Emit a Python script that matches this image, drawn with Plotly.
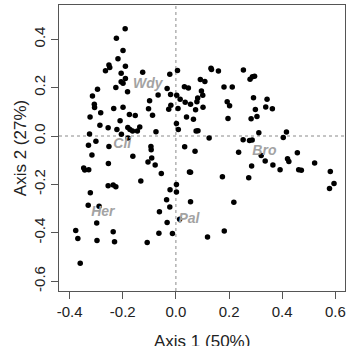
import plotly.graph_objects as go

# Site scores (Axis 1, Axis 2)
axis1 = [-0.191, -0.224, -0.199, -0.218, -0.252, -0.249, -0.265, -0.190, -0.206, -0.190,
         -0.206, -0.199, -0.226, -0.125, -0.182, -0.295, -0.314, -0.307, -0.306, -0.234,
         -0.199, -0.283, -0.323, -0.210, -0.175, -0.153, -0.286, -0.255, -0.222, -0.181,
         -0.173, -0.163, -0.136, -0.145, -0.205, -0.180, -0.325, -0.301, -0.329, -0.252,
         -0.094, -0.093, -0.099, -0.067, -0.103, -0.088, -0.075, -0.023, 0.006, -0.033,
         -0.020, 0.003, 0.016, 0.032, 0.047, -0.019, -0.027, 0.008, 0.035, 0.055,
         0.082, 0.079, 0.074, 0.092, 0.109, 0.096, 0.101, 0.102, 0.040, 0.066,
         0.002, 0.009, 0.076, 0.083, 0.125, 0.033, 0.072, 0.132, 0.134, 0.160,
         0.254, 0.279, 0.288, 0.296, 0.181, 0.212, 0.193, 0.202, 0.196, 0.283,
         0.253, 0.277, 0.287, 0.236, 0.292, 0.343, 0.299, 0.338, 0.363, 0.305,
         0.312, 0.416, 0.404, 0.457, 0.321, 0.336, 0.365, 0.392, 0.420, 0.425,
         0.462, 0.472, 0.285, 0.274, 0.175, 0.522, 0.581, 0.595, 0.578, 0.218,
         0.182, 0.119, -0.316, -0.162, -0.091, -0.105, -0.078, -0.254, -0.347, -0.343,
         -0.328, -0.055, 0.051, 0.055, -0.132, -0.255, -0.236, -0.226, 0.002, -0.022,
         0.002, -0.322, -0.330, -0.289, -0.035, -0.023, 0.055, -0.062, -0.298, -0.033,
         0.014, -0.377, -0.236, -0.369, -0.297, -0.231, -0.064, -0.013, -0.108, -0.360]
axis2 = [0.443, 0.404, 0.353, 0.319, 0.293, 0.283, 0.270, 0.288, 0.259, 0.238,
         0.224, 0.218, 0.200, 0.263, 0.183, 0.193, 0.165, 0.131, 0.118, 0.114,
         0.119, 0.096, 0.079, 0.063, 0.089, 0.085, 0.044, 0.034, 0.027, 0.035,
         0.027, 0.021, 0.037, 0.021, 0.007, -0.008, 0.008, -0.022, -0.038, -0.043,
         -0.043, -0.057, 0.146, 0.169, 0.113, 0.086, 0.018, 0.255, 0.271, 0.196,
         0.171, 0.168, 0.152, 0.203, 0.198, 0.127, 0.111, 0.114, 0.139, 0.131,
         0.157, 0.141, 0.108, 0.233, 0.225, 0.186, 0.168, 0.119, 0.078, 0.069,
         0.052, 0.027, 0.021, 0.022, -0.008, -0.044, -0.063, 0.280, 0.275, 0.269,
         0.273, 0.234, 0.245, 0.247, 0.202, 0.202, 0.142, 0.125, 0.072, 0.071,
         -0.016, -0.019, -0.017, -0.067, 0.158, 0.152, 0.110, 0.120, 0.113, 0.081,
         0.013, 0.017, -0.006, -0.069, -0.081, -0.103, -0.120, -0.139, -0.094, -0.105,
         -0.139, -0.142, -0.124, -0.173, -0.168, -0.112, -0.147, -0.196, -0.217, -0.274,
         -0.393, -0.417, -0.079, -0.084, -0.091, -0.107, -0.120, -0.114, -0.132, -0.140,
         -0.139, -0.155, -0.149, -0.150, -0.186, -0.206, -0.203, -0.210, -0.200, -0.222,
         -0.231, -0.235, -0.286, -0.290, -0.263, -0.293, -0.272, -0.313, -0.360, -0.357,
         -0.344, -0.391, -0.396, -0.424, -0.432, -0.437, -0.402, -0.403, -0.440, -0.526]

# Species labels and their positions
species = ["Wdy", "Cli", "Her", "Pal", "Bro"]
sp_axis1 = [-0.106, -0.202, -0.275, 0.049, 0.333]
sp_axis2 = [0.211, -0.037, -0.317, -0.347, -0.062]

xticks = [-0.4, -0.2, 0.0, 0.2, 0.4, 0.6]
yticks = [-0.6, -0.4, -0.2, 0.0, 0.2, 0.4]
x_title = "Axis 1 (50%)"
y_title = "Axis 2 (27%)"

FONT = "Liberation Sans, Arial, Helvetica, sans-serif"

fig = go.Figure()
fig.add_trace(go.Scatter(
    x=axis1, y=axis2, mode="markers",
    marker=dict(color="black", size=5.5, line=dict(width=0)),
    showlegend=False, hoverinfo="skip"))
fig.add_trace(go.Scatter(
    x=sp_axis1, y=sp_axis2, mode="text",
    text=["<b><i>%s</i></b>" % s for s in species],
    textfont=dict(family=FONT, size=14, color="#a3a3a3"),
    textposition="middle center",
    showlegend=False, hoverinfo="skip"))

# dotted zero lines
fig.add_shape(type="line", xref="x", yref="paper", x0=0, x1=0, y0=0, y1=1,
              line=dict(color="#8a8a8a", width=1, dash="dot"), layer="below")
fig.add_shape(type="line", xref="paper", yref="y", x0=0, x1=1, y0=0, y1=0,
              line=dict(color="#8a8a8a", width=1, dash="dot"), layer="below")

# x-axis title placed as an annotation (partly cut off at the bottom edge, as in the original)
fig.add_annotation(text=x_title, xref="paper", yref="paper", x=0.5, y=0,
                   xanchor="center", yanchor="middle", yshift=-50, showarrow=False,
                   font=dict(family=FONT, size=17, color="#222222"))

fig.update_xaxes(
    range=[-0.4399, 0.6363], tickvals=xticks, automargin=False,
    ticktext=["%.1f" % v for v in xticks],
    showgrid=False, zeroline=False, showline=True, mirror=True,
    linecolor="#555555", linewidth=1,
    ticks="outside", ticklen=7, tickcolor="#555555", tickwidth=1,
    tickfont=dict(family=FONT, size=15, color="#222222"))
fig.update_yaxes(
    range=[-0.6405, 0.5413], tickvals=yticks, automargin=False,
    ticktext=["%.1f" % v for v in yticks], tickangle=-90,
    showgrid=False, zeroline=False, showline=True, mirror=True,
    linecolor="#555555", linewidth=1,
    ticks="outside", ticklen=7, tickcolor="#555555", tickwidth=1,
    tickfont=dict(family=FONT, size=15, color="#222222"),
    title=dict(text=y_title, font=dict(family=FONT, size=17, color="#222222"), standoff=0))

fig.update_layout(
    width=348, height=346,
    margin=dict(l=59, r=3, t=5, b=55),
    plot_bgcolor="white", paper_bgcolor="white",
    font=dict(family=FONT),
)

fig.write_html("out.html")
